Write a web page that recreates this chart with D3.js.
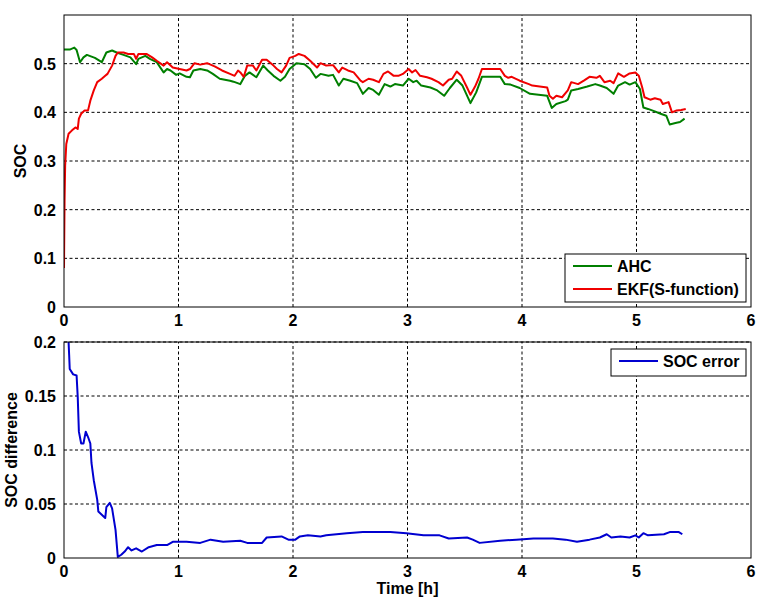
<!DOCTYPE html>
<html>
<head>
<meta charset="utf-8">
<script src="https://d3js.org/d3.v7.min.js"></script>
<style>
	body { margin: 0; background: #fff; }
	text { font-family: "Liberation Sans", Arial, sans-serif; font-weight: bold; font-size: 16px; fill: #000; }
	.grid line { stroke: #000; stroke-width: 1; stroke-dasharray: 3,2.5; }
	.frame { fill: none; stroke: #000; stroke-width: 1; }
</style>
</head>
<body>
<svg id="chart" width="766" height="604"></svg>
<script>
/*
** SOC estimate: AHC versus EKF (S-function), and the difference between them.
*/

// time axis [h]
var timeTicks = [0, 1, 2, 3, 4, 5, 6];
var socTicks = [0, 0.1, 0.2, 0.3, 0.4, 0.5];
var diffTicks = [0, 0.05, 0.1, 0.15, 0.2];
var seriesNames = ["AHC", "EKF(S-function)"];
var errorName = "SOC error";

// AHC series
var ahcTime = [0.00, 0.05, 0.09, 0.11, 0.14, 0.17, 0.20, 0.27, 0.33, 0.37, 0.42, 0.46, 0.52, 0.58, 0.63, 0.65,
	0.71, 0.75, 0.81, 0.87, 0.90, 0.93, 0.98, 1.01, 1.07, 1.10, 1.13, 1.19, 1.25, 1.30, 1.36, 1.45, 1.48,
	1.54, 1.58, 1.62, 1.68, 1.74, 1.78, 1.83, 1.89, 1.93, 1.97, 2.03, 2.10, 2.15, 2.20, 2.24, 2.31, 2.35,
	2.40, 2.44, 2.50, 2.56, 2.61, 2.66, 2.70, 2.75, 2.80, 2.85, 2.89, 2.96, 3.01, 3.05, 3.08, 3.12, 3.20,
	3.26, 3.32, 3.37, 3.43, 3.48, 3.55, 3.60, 3.65, 3.81, 3.85, 3.90, 3.98, 4.07, 4.22, 4.26, 4.30, 4.38,
	4.40, 4.43, 4.49, 4.57, 4.64, 4.68, 4.74, 4.80, 4.84, 4.90, 4.94, 4.99, 5.03, 5.06, 5.10, 5.16, 5.21,
	5.26, 5.29, 5.34, 5.38, 5.42];
var ahcSoc = [0.529, 0.529, 0.533, 0.528, 0.503, 0.513, 0.518, 0.512, 0.503, 0.523, 0.527, 0.523, 0.518, 0.513, 0.499, 0.510,
	0.516, 0.510, 0.503, 0.482, 0.489, 0.486, 0.477, 0.480, 0.473, 0.472, 0.486, 0.489, 0.486, 0.479, 0.469, 0.465, 0.463,
	0.458, 0.475, 0.482, 0.472, 0.496, 0.486, 0.475, 0.465, 0.473, 0.489, 0.501, 0.499, 0.489, 0.471, 0.479, 0.475, 0.477,
	0.455, 0.469, 0.465, 0.460, 0.438, 0.450, 0.446, 0.436, 0.458, 0.453, 0.458, 0.455, 0.469, 0.462, 0.465, 0.455, 0.451,
	0.445, 0.434, 0.450, 0.467, 0.455, 0.419, 0.441, 0.473, 0.473, 0.458, 0.457, 0.450, 0.438, 0.434, 0.409, 0.417, 0.423,
	0.426, 0.445, 0.448, 0.453, 0.458, 0.455, 0.450, 0.438, 0.455, 0.462, 0.457, 0.462, 0.448, 0.410, 0.407, 0.402, 0.397,
	0.393, 0.375, 0.378, 0.380, 0.387];

// EKF series
var ekfTime = [0.00, 0.005, 0.01, 0.02, 0.04, 0.07, 0.10, 0.12, 0.13, 0.15, 0.18, 0.21, 0.23, 0.26, 0.29, 0.33,
	0.36, 0.38, 0.42, 0.45, 0.47, 0.52, 0.56, 0.61, 0.63, 0.65, 0.72, 0.77, 0.81, 0.87, 0.90, 0.95, 1.01,
	1.07, 1.10, 1.14, 1.19, 1.25, 1.32, 1.38, 1.45, 1.49, 1.52, 1.54, 1.57, 1.60, 1.65, 1.68, 1.73, 1.77,
	1.83, 1.86, 1.90, 1.94, 1.97, 2.02, 2.05, 2.10, 2.15, 2.21, 2.24, 2.29, 2.35, 2.40, 2.43, 2.48, 2.53,
	2.59, 2.61, 2.66, 2.70, 2.75, 2.79, 2.83, 2.88, 2.92, 2.96, 3.01, 3.04, 3.07, 3.11, 3.17, 3.21, 3.27,
	3.31, 3.36, 3.39, 3.43, 3.47, 3.52, 3.55, 3.59, 3.62, 3.65, 3.81, 3.85, 3.88, 3.91, 3.98, 4.06, 4.09,
	4.22, 4.24, 4.27, 4.30, 4.35, 4.40, 4.43, 4.49, 4.54, 4.59, 4.65, 4.68, 4.72, 4.77, 4.80, 4.84, 4.89,
	4.94, 4.99, 5.02, 5.05, 5.07, 5.12, 5.16, 5.21, 5.23, 5.28, 5.31, 5.35, 5.39, 5.43];
var ekfSoc = [0.080, 0.220, 0.290, 0.335, 0.356, 0.363, 0.369, 0.366, 0.387, 0.397, 0.404, 0.404, 0.424, 0.445, 0.462, 0.469,
	0.475, 0.479, 0.496, 0.516, 0.523, 0.523, 0.520, 0.520, 0.510, 0.520, 0.520, 0.513, 0.506, 0.496, 0.503, 0.492, 0.489,
	0.486, 0.489, 0.501, 0.498, 0.501, 0.494, 0.486, 0.479, 0.475, 0.486, 0.482, 0.473, 0.496, 0.496, 0.486, 0.508, 0.508,
	0.496, 0.489, 0.482, 0.496, 0.512, 0.516, 0.520, 0.516, 0.506, 0.492, 0.501, 0.496, 0.497, 0.482, 0.492, 0.486, 0.482,
	0.465, 0.462, 0.469, 0.467, 0.462, 0.479, 0.484, 0.475, 0.475, 0.479, 0.489, 0.482, 0.487, 0.475, 0.472, 0.469, 0.462,
	0.455, 0.467, 0.469, 0.484, 0.475, 0.451, 0.436, 0.453, 0.469, 0.489, 0.489, 0.475, 0.471, 0.473, 0.465, 0.458, 0.455,
	0.451, 0.434, 0.428, 0.434, 0.431, 0.445, 0.462, 0.458, 0.465, 0.473, 0.471, 0.475, 0.462, 0.465, 0.460, 0.480, 0.473,
	0.480, 0.482, 0.475, 0.451, 0.431, 0.426, 0.429, 0.426, 0.417, 0.421, 0.400, 0.404, 0.405, 0.407];

// difference series
var errTime = [0.00, 0.04, 0.045, 0.05, 0.08, 0.11, 0.12, 0.13, 0.15, 0.17, 0.19, 0.21, 0.23, 0.24, 0.26, 0.29,
	0.30, 0.33, 0.36, 0.37, 0.40, 0.42, 0.45, 0.47, 0.50, 0.53, 0.56, 0.59, 0.63, 0.68, 0.74, 0.81, 0.90,
	0.95, 1.07, 1.19, 1.28, 1.39, 1.54, 1.60, 1.73, 1.77, 1.90, 1.96, 2.02, 2.06, 2.13, 2.24, 2.29, 2.47,
	2.61, 2.85, 2.99, 3.14, 3.28, 3.36, 3.52, 3.57, 3.63, 3.81, 3.95, 4.10, 4.27, 4.38, 4.48, 4.59, 4.68,
	4.74, 4.78, 4.86, 4.94, 4.99, 5.02, 5.06, 5.10, 5.24, 5.29, 5.37, 5.40];
var errSoc = [0.450, 0.200, 0.188, 0.175, 0.170, 0.169, 0.149, 0.117, 0.106, 0.106, 0.117, 0.112, 0.106, 0.088, 0.072, 0.054,
	0.043, 0.040, 0.037, 0.047, 0.051, 0.046, 0.026, 0.001, 0.003, 0.006, 0.010, 0.007, 0.009, 0.006, 0.010, 0.012, 0.012,
	0.015, 0.015, 0.014, 0.017, 0.015, 0.016, 0.014, 0.014, 0.019, 0.020, 0.017, 0.017, 0.020, 0.021, 0.020, 0.021, 0.023,
	0.024, 0.024, 0.023, 0.021, 0.021, 0.018, 0.019, 0.017, 0.014, 0.016, 0.017, 0.018, 0.018, 0.017, 0.015, 0.017, 0.019,
	0.022, 0.019, 0.020, 0.019, 0.021, 0.019, 0.023, 0.021, 0.022, 0.024, 0.024, 0.022];

var svg = d3.select("#chart");
var left = 64, right = 751;

var x = d3.scaleLinear().domain([0, 6]).range([left, right]);
var yTop = d3.scaleLinear().domain([0, 0.6]).range([307, 15]);
var yBottom = d3.scaleLinear().domain([0, 0.2]).range([558, 342]);

/*
** Draws one axes box with its dashed grid and tick labels.
*/
function drawAxes(y, yTicks, name, labelX) {
	var g = svg.append("g");
	var y0 = y.range()[0], y1 = y.range()[1];

	var grid = g.append("g").attr("class", "grid");
	grid.selectAll("line.vx")
		.data(timeTicks.slice(1, -1))
		.enter()
		.append("line")
			.attr("x1", function(d) {return x(d);})
			.attr("x2", function(d) {return x(d);})
			.attr("y1", y0)
			.attr("y2", y1);
	grid.selectAll("line.hy")
		.data(yTicks.slice(1))
		.enter()
		.append("line")
			.attr("x1", left)
			.attr("x2", right)
			.attr("y1", function(d) {return y(d);})
			.attr("y2", function(d) {return y(d);});

	// tick labels
	g.selectAll("text.xt")
		.data(timeTicks)
		.enter()
		.append("text")
			.attr("x", function(d) {return x(d);})
			.attr("y", y0 + 19)
			.attr("text-anchor", "middle")
			.text(function(d) {return d;});
	g.selectAll("text.yt")
		.data(yTicks)
		.enter()
		.append("text")
			.attr("x", left - 8)
			.attr("y", function(d) {return y(d) + 6;})
			.attr("text-anchor", "end")
			.text(function(d) {return d;});

	g.append("text")
		.attr("transform", "translate(" + labelX + "," + ((y0 + y1) / 2) + ") rotate(-90)")
		.attr("text-anchor", "middle")
		.text(name);
	return g;
}

/*
** Draws one series as a line clipped to its axes.
*/
function drawLine(g, y, xs, ys, colour, clipId) {
	var pts = xs.map(function(d, i) {return [d, ys[i]];});
	var line = d3.line()
		.x(function(d) {return x(d[0]);})
		.y(function(d) {return y(d[1]);});
	g.append("path")
		.datum(pts)
		.attr("clip-path", "url(#" + clipId + ")")
		.attr("fill", "none")
		.attr("stroke", colour)
		.attr("stroke-width", 2)
		.attr("stroke-linejoin", "round")
		.attr("d", line);
}

/*
** Legend box with a short line sample per entry.
*/
function drawLegend(g, x0, y0, w, h, names, colours) {
	g.append("rect")
		.attr("x", x0).attr("y", y0)
		.attr("width", w).attr("height", h)
		.attr("fill", "#fff").attr("stroke", "#000");
	names.forEach(function(n, i) {
		var ly = y0 + 12 + i * 23;
		g.append("line")
			.attr("x1", x0 + 8).attr("x2", x0 + 47)
			.attr("y1", ly).attr("y2", ly)
			.attr("stroke", colours[i]).attr("stroke-width", 2);
		g.append("text")
			.attr("x", x0 + 52)
			.attr("y", ly + 6)
			.text(n);
	});
}

var defs = svg.append("defs");
defs.append("clipPath").attr("id", "clipTop")
	.append("rect").attr("x", left).attr("y", 15).attr("width", right - left).attr("height", 292);
defs.append("clipPath").attr("id", "clipBottom")
	.append("rect").attr("x", left).attr("y", 342).attr("width", right - left).attr("height", 216);

var topAxes = drawAxes(yTop, socTicks, "SOC", 26);
drawLine(topAxes, yTop, ahcTime, ahcSoc, "#007f00", "clipTop");
drawLine(topAxes, yTop, ekfTime, ekfSoc, "#f00000", "clipTop");
topAxes.append("rect").attr("class", "frame")
	.attr("x", left).attr("y", 15).attr("width", right - left).attr("height", 292);
drawLegend(topAxes, 565, 254, 181, 48, seriesNames, ["#007f00", "#f00000"]);

var bottomAxes = drawAxes(yBottom, diffTicks, "SOC difference", 17);
drawLine(bottomAxes, yBottom, errTime, errSoc, "#0000d0", "clipBottom");
bottomAxes.append("rect").attr("class", "frame")
	.attr("x", left).attr("y", 342).attr("width", right - left).attr("height", 216);
drawLegend(bottomAxes, 611, 349, 135, 27, [errorName], ["#0000d0"]);

svg.append("text")
	.attr("x", (left + right) / 2)
	.attr("y", 594)
	.attr("text-anchor", "middle")
	.text("Time [h]");
</script>
</body>
</html>
